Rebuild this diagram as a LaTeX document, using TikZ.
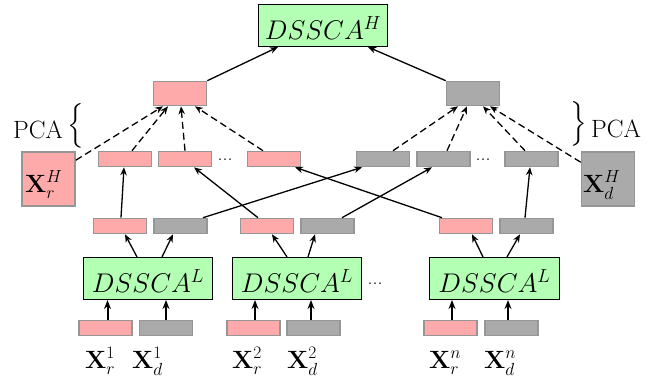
\RequirePackage{fix-cm}
\documentclass[tikz,border=0pt]{standalone}
\usepackage{exscale}
\usetikzlibrary{arrows.meta,calc}
\definecolor{pinkc}{RGB}{255,170,170}
\definecolor{grayc}{RGB}{170,170,170}
\definecolor{edgec}{RGB}{150,150,150}
\definecolor{greenc}{RGB}{179,255,179}
\tikzset{
  vec/.style={draw=edgec, line width=1.6pt, inner sep=0pt, minimum width=53pt, minimum height=15pt},
  rvec/.style={vec, fill=pinkc},
  dvec/.style={vec, fill=grayc},
  mvec/.style={vec, minimum height=24pt},
  bigvec/.style={draw=edgec, line width=1.6pt, inner sep=0pt, minimum width=53pt, minimum height=54pt},
  dssca/.style={draw=black, fill=greenc, line width=1.1pt, inner sep=0pt, minimum width=129pt, minimum height=42pt, text height=27pt, text depth=0pt, font=\fontsize{27}{30}\selectfont},
  lbl/.style={inner sep=0pt, anchor=base west, font=\fontsize{25}{28}\selectfont},
  brace/.style={inner sep=0pt, font=\fontsize{25}{28}\selectfont},
  dotsty/.style={inner sep=0pt, anchor=base, font=\fontsize{20}{22}\selectfont},
  arr/.style={line width=1.3pt, -{Stealth[length=8pt,width=6.5pt]}},
  darr/.style={arr, dash pattern=on 7pt off 4pt},
  inarr/.style={line width=2pt, -{Stealth[length=9pt,width=7pt]}},
}
\begin{document}
\begin{tikzpicture}[x=1pt,y=-1pt]
\useasboundingbox (0,0) rectangle (653,381);
% top
\node[dssca, minimum width=129pt] (top) at (323,25.5) {$DSSCA^H$};
\node[mvec, fill=pinkc] (midR) at (180,93.5) {};
\node[mvec, fill=grayc] (midD) at (473,93.5) {};
% PCA labels
\node[lbl] (pcaL) at (13,138) {PCA};
\node[brace] (brL) at (76,126) {$\nulldelimiterspace=0pt\left\{\vcenter{\hbox{\rule{0pt}{40pt}}}\right.$};
\node[brace] (brR) at (579,124) {$\nulldelimiterspace=0pt\left.\vcenter{\hbox{\rule{0pt}{40pt}}}\right\}$};
\node[lbl] (pcaR) at (591,137) {PCA};
% big boxes
\node[bigvec, fill=pinkc] (XrH) at (48.5,179) {};
\node[bigvec, fill=grayc] (XdH) at (608,179) {};
\node[lbl] (XrHl) at (25,192) {$\mathbf{X}_r^H$};
\node[lbl] (XdHl) at (583,192) {$\mathbf{X}_d^H$};
% upper row
\node[rvec] (uR1) at (125,159) {};
\node[rvec] (uR2) at (185,159) {};
\node[dotsty] (dots1) at (225,160) {...};
\node[rvec] (uR3) at (274,159) {};
\node[dvec] (uD1) at (383,159) {};
\node[dvec] (uD2) at (443.5,159) {};
\node[dotsty] (dots2) at (483,160) {...};
\node[dvec] (uD3) at (531.5,159) {};
% lower row
\node[rvec] (lR1) at (120,226) {};
\node[dvec] (lD1) at (180.5,226) {};
\node[rvec] (lR2) at (267,226) {};
\node[dvec] (lD2) at (327.5,226) {};
\node[rvec] (lR3) at (466,226) {};
\node[dvec] (lD3) at (526.5,226) {};
% DSSCA L
\node[dssca] (L1) at (148,278.5) {$DSSCA^L$};
\node[dssca] (L2) at (297,278.5) {$DSSCA^L$};
\node[dotsty] (dots3) at (375,284.5) {...};
\node[dssca, minimum width=130pt] (L3) at (494.5,278.5) {$DSSCA^L$};
% inputs
\node[rvec] (iR1) at (105.5,328) {};
\node[dvec] (iD1) at (166,328) {};
\node[rvec] (iR2) at (253.5,328) {};
\node[dvec] (iD2) at (313.5,328) {};
\node[rvec] (iR3) at (450.5,328) {};
\node[dvec] (iD3) at (511.5,328) {};
\node[lbl] (xr1) at (85,368) {$\mathbf{X}_r^1$};
\node[lbl] (xd1) at (132,368) {$\mathbf{X}_d^1$};
\node[lbl] (xr2) at (232,368) {$\mathbf{X}_r^2$};
\node[lbl] (xd2) at (287,368) {$\mathbf{X}_d^2$};
\node[lbl] (xrn) at (429,368) {$\mathbf{X}_r^n$};
\node[lbl] (xdn) at (484,368) {$\mathbf{X}_d^n$};
% arrows to top
\draw[arr] (midR.north east) -- ($(top.south west)+(20,0)$);
\draw[arr] (midD.north west) -- ($(top.south east)+(-20,0)$);
% dashed PCA arrows
\draw[darr] ($(XrH.north east)+(0,9)$) -- ($(midR.south)+(-17,0)$);
\draw[darr] ($(uR1.north)+(7,0)$) -- ($(midR.south)+(-12,0)$);
\draw[darr] (uR2.north) -- ($(midR.south)+(1,0)$);
\draw[darr] ($(uR3.north)+(-11,0)$) -- ($(midR.south)+(15,0)$);
\draw[darr] ($(uD1.north)+(10,0)$) -- ($(midD.south)+(-15,0)$);
\draw[darr] ($(uD2.north)+(3.5,0)$) -- ($(midD.south)+(-6,0)$);
\draw[darr] ($(uD3.north)+(-6.5,0)$) -- ($(midD.south)+(10,0)$);
\draw[darr] ($(XdH.north west)+(0,11)$) -- ($(midD.south)+(17,0)$);
% lower to upper
\draw[arr] ($(lR1.north)+(1,0)$) -- ($(uR1.south)+(-1,0)$);
\draw[arr] ($(lR2.north)+(-9,0)$) -- ($(uR2.south)+(9,0)$);
\draw[arr] ($(lR3.north)+(-24,0)$) -- ($(uR3.south)+(21,0)$);
\draw[arr] ($(lD1.north)+(22.5,0)$) -- ($(uD1.south)+(-21,0)$);
\draw[arr] ($(lD2.north)+(14.5,0)$) -- ($(uD2.south)+(-11.5,0)$);
\draw[arr] ($(lD3.north)+(-1.5,0)$) -- ($(uD3.south)+(-1.5,0)$);
% DSSCA L outputs
\draw[arr] ($(L1.north)+(-11,0)$) -- ($(lR1.south)+(5,0)$);
\draw[arr] ($(L1.north)+(14,0)$) -- ($(lD1.south)+(-7.5,0)$);
\draw[arr] ($(L2.north)+(-10,0)$) -- ($(lR2.south)+(5,0)$);
\draw[arr] ($(L2.north)+(11,0)$) -- ($(lD2.south)+(-12.5,0)$);
\draw[arr] ($(L3.north)+(-11.5,0)$) -- ($(lR3.south)+(6,0)$);
\draw[arr] ($(L3.north)+(12.5,0)$) -- ($(lD3.south)+(-6.5,0)$);
% inputs
\coordinate (a1) at ($(iR1.north)+(2,0)$);
\coordinate (a2) at (iD1.north);
\coordinate (a3) at ($(iR2.north)+(1.5,0)$);
\coordinate (a4) at ($(iD2.north)+(-2.5,0)$);
\coordinate (a5) at ($(iR3.north)+(1.5,0)$);
\coordinate (a6) at ($(iD3.north)+(-3.5,0)$);
\draw[inarr] (a1) -- (a1 |- L1.south);
\draw[inarr] (a2) -- (a2 |- L1.south);
\draw[inarr] (a3) -- (a3 |- L2.south);
\draw[inarr] (a4) -- (a4 |- L2.south);
\draw[inarr] (a5) -- (a5 |- L3.south);
\draw[inarr] (a6) -- (a6 |- L3.south);
\end{tikzpicture}
\end{document}
